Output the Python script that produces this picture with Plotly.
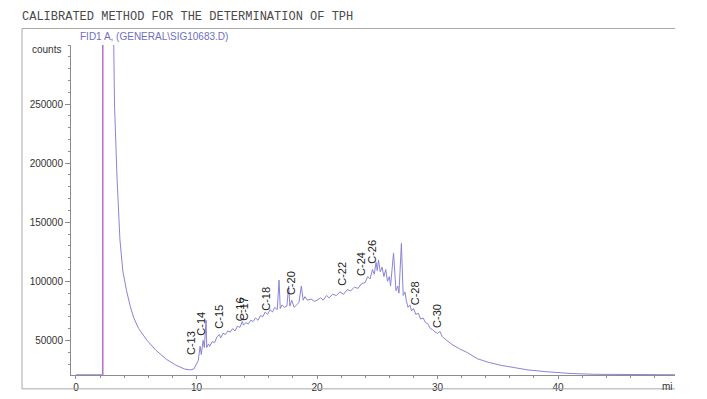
import plotly.graph_objects as go

# Retention time (min) and detector signal (counts)
time_min = [0.0, 1.0, 2.2, 2.24, 3.1, 3.2, 3.4, 3.65, 3.9, 4.2, 4.5, 4.8, 5.2, 5.9, 6.6, 7.5, 8.3, 9.0, 9.5, 9.8,
            10.0, 10.15, 10.3, 10.4, 10.55, 10.65, 10.8, 10.85, 11.0, 11.1, 11.3, 11.5, 11.7, 11.9, 12.0, 12.2,
            12.4, 12.6, 12.8, 13.0, 13.2, 13.4, 13.6, 13.8, 13.9, 14.1, 14.3, 14.5, 14.7, 14.9, 15.1, 15.3,
            15.5, 15.7, 15.9, 16.1, 16.3, 16.5, 16.7, 16.85, 16.95, 17.1, 17.3, 17.5, 17.65, 17.75, 17.9, 18.1,
            18.3, 18.5, 18.7, 18.85, 19.0, 19.2, 19.5, 19.8, 20.0, 20.3, 20.5, 20.8, 21.0, 21.3, 21.6, 21.9,
            22.2, 22.5, 22.8, 23.1, 23.4, 23.7, 24.0, 24.2, 24.4, 24.6, 24.75, 24.9, 25.0, 25.1, 25.25, 25.4,
            25.55, 25.7, 25.85, 26.0, 26.1, 26.35, 26.55, 26.7, 26.8, 27.0, 27.15, 27.3, 27.4, 27.55, 27.7,
            27.85, 28.0, 28.2, 28.4, 28.6, 28.8, 29.0, 29.2, 29.4, 29.6, 29.8, 30.0, 30.2, 30.4, 30.8, 31.2,
            31.8, 32.5, 33.3, 34.2, 35.2, 36.2, 37.5, 39.0, 41.0, 43.0, 46.0, 49.7]
counts = [20900, 20900, 20900, 3000000, 330000, 250000, 190000, 135000, 108000, 92000, 79000, 69000, 60000,
          50000, 42000, 34000, 29000, 25800, 25000, 26000,
          30000, 33000, 45000, 38000, 50000, 44000, 67000, 44000, 47000, 45000, 49000, 48000, 53000, 55000,
          52000, 56000, 55000, 58000, 57000, 60000, 58000, 62000, 61000, 66000, 63000, 65000, 64000, 67000,
          66000, 69000, 67000, 71000, 70000, 74000, 72000, 76000, 74000, 78000, 76000, 101000, 77000, 80000,
          78000, 79000, 96000, 79000, 84000, 78000, 80000, 82000, 96000, 84000, 87000, 84000, 85000, 83000,
          84000, 86000, 84000, 88000, 86000, 89000, 88000, 91000, 89000, 93000, 92000, 95000, 94000, 98000,
          99000, 104000, 102000, 110000, 106000, 116000, 109000, 118000, 108000, 112000, 104000, 110000,
          100000, 104000, 96000, 124000, 92000, 96000, 90000, 132000, 88000, 91000, 84000, 78000, 80000,
          75000, 77000, 72000, 73000, 68000, 69000, 65000, 64000, 60000, 59000, 57000, 56000, 57500, 53000,
          50000, 46500, 43000, 39500, 34500, 31500, 29000, 27000, 25000, 23500, 22000, 21300, 21000, 20900]

front_time = [2.24, 2.24]
front_counts = [20700, 3000000]

peak_labels = ["C-13", "C-14", "C-15", "C-16", "C-17", "C-18", "C-20", "C-22", "C-24", "C-26", "C-28", "C-30"]
label_time = [9.6, 10.4, 11.9, 13.6, 13.95, 15.8, 17.9, 22.1, 23.7, 24.6, 28.2, 30.0]
label_counts = [35600, 52500, 58500, 64400, 65000, 73700, 86400, 94800, 102500, 113500, 77900, 58500]

y_ticks = [50000, 100000, 150000, 200000, 250000]
x_ticks = [0, 10, 20, 30, 40]

fig = go.Figure()
fig.add_trace(go.Scatter(x=time_min, y=counts, mode="lines",
                         line=dict(color="#8a84d6", width=1), showlegend=False, hoverinfo="skip"))
fig.add_trace(go.Scatter(x=front_time, y=front_counts, mode="lines",
                         line=dict(color="#c46ec8", width=1.2), showlegend=False, hoverinfo="skip"))

for lab, t, c in zip(peak_labels, label_time, label_counts):
    fig.add_annotation(x=t, y=c, text=lab, textangle=-90, showarrow=False,
                       xanchor="center", yanchor="bottom",
                       font=dict(family="Arial, Liberation Sans", size=11, color="#222"))

axis_font = dict(family="Arial, Liberation Sans", size=10, color="#333")

# page body has an 8px default margin; size the figure so the plot lands where the reference has it
fig.update_layout(
    width=699, height=391,
    margin=dict(l=63, r=32, t=37, b=24, autoexpand=False),
    paper_bgcolor="white", plot_bgcolor="white",
    xaxis=dict(range=[-0.41, 49.7], tickvals=x_ticks, ticktext=[str(v) for v in x_ticks],
               showgrid=False, zeroline=False, showline=True, linecolor="#8c8c8c", linewidth=1,
               ticks="outside", ticklen=3, tickcolor="#8c8c8c", tickfont=axis_font,
               minor=dict(dtick=2, ticks="outside", ticklen=2, tickcolor="#8c8c8c")),
    yaxis=dict(range=[20700, 300000], tickvals=y_ticks, ticktext=[str(v) for v in y_ticks],
               showgrid=False, zeroline=False, showline=True, linecolor="#8c8c8c", linewidth=1,
               ticks="outside", ticklen=5, tickcolor="#8c8c8c", tickfont=axis_font,
               minor=dict(dtick=10000, ticks="outside", ticklen=2, tickcolor="#8c8c8c")),
)

fig.add_annotation(xref="paper", yref="paper", x=-0.0844, y=1.085, xanchor="left", yanchor="middle",
                   text="CALIBRATED METHOD FOR THE DETERMINATION OF TPH", showarrow=False,
                   font=dict(family="Liberation Mono, Courier New, monospace", size=12, color="#4a4a4a"))
fig.add_annotation(xref="paper", yref="paper", x=0.0116, y=1.027, xanchor="left", yanchor="middle",
                   text="FID1 A, (GENERAL\\SIG10683.D)", showarrow=False,
                   font=dict(family="Arial, Liberation Sans", size=10, color="#6f6fc0"))
fig.add_annotation(xref="paper", yref="paper", x=-0.0132, y=0.985, xanchor="right", yanchor="middle",
                   text="counts", showarrow=False, font=axis_font)
fig.add_annotation(xref="paper", yref="paper", x=1.0, y=-0.012, xanchor="right", yanchor="top",
                   text="mi", showarrow=False, font=axis_font)

frame = dict(color="#a8a8a8", width=1)
fig.add_shape(type="line", xref="paper", yref="paper", x0=-0.0811, x1=-0.0811, y0=-0.042, y1=1.05, line=frame)
fig.add_shape(type="line", xref="paper", yref="paper", x0=-0.0811, x1=1.0, y0=1.05, y1=1.05, line=frame)
fig.add_shape(type="line", xref="paper", yref="paper", x0=-0.0811, x1=1.0, y0=-0.042, y1=-0.042, line=frame)

fig.write_html("out.html")
